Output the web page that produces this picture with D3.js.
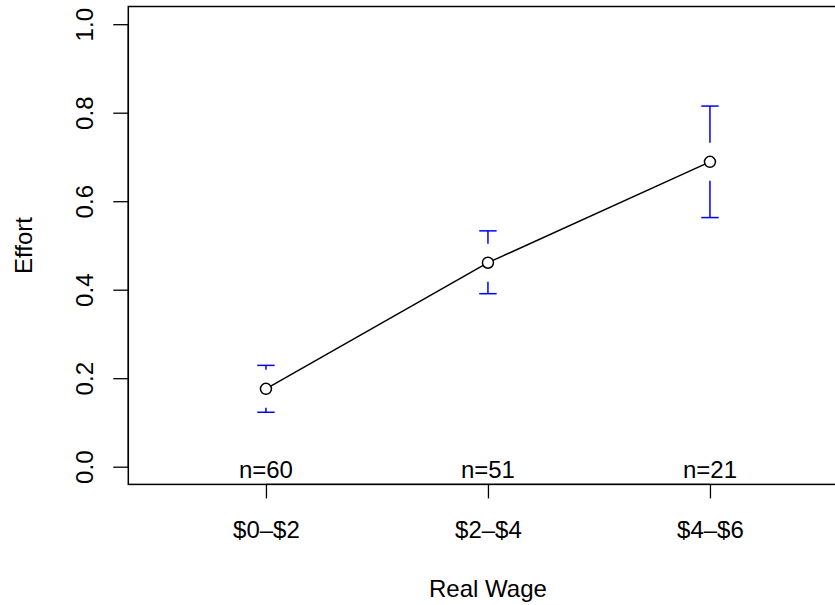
<!DOCTYPE html>
<html>
<head>
<meta charset="utf-8">
<script src="https://cdn.jsdelivr.net/npm/d3@7"></script>
<style>
  html, body { margin: 0; padding: 0; background: #fff; }
  svg text { font-family: "Liberation Sans", Arial, Helvetica, sans-serif; }
</style>
</head>
<body>
<svg id="chart" width="835" height="605"></svg>
<script>
// Wage bins, mean effort with interval bounds, and group sizes
const categories = ["$0\u2013$2", "$2\u2013$4", "$4\u2013$6"];
const effortMean = [0.176, 0.461, 0.689];
const effortUpper = [0.229, 0.533, 0.815];
const effortLower = [0.123, 0.391, 0.563];
const groupN = [60, 51, 21];
const yTicks = [0.0, 0.2, 0.4, 0.6, 0.8, 1.0];

const svg = d3.select("#chart");
const box = { left: 128.3, top: 6.5, bottom: 484.4, right: 847.6 };
const fontSize = 24;

const x = d3.scaleLinear().domain([0.38, 3.62]).range([box.left, box.right]);
const y = d3.scaleLinear().domain([-0.04, 1.04]).range([box.bottom, box.top]);

const idx = categories.map((_, i) => i + 1);

// Y axis
const yAxis = svg.append("g")
  .attr("transform", `translate(${box.left},0)`)
  .call(d3.axisLeft(y).tickValues(yTicks).tickFormat(d3.format(".1f")).tickSize(15).tickSizeOuter(0));
yAxis.select(".domain").attr("d", `M0,${y(0)}V${y(1)}`).attr("stroke", "#000").attr("stroke-width", 1.3);
yAxis.selectAll(".tick line").attr("stroke", "#000").attr("stroke-width", 1.3);
yAxis.selectAll(".tick text")
  .attr("x", null).attr("dy", null)
  .attr("transform", "translate(-35,0) rotate(-90)")
  .attr("text-anchor", "middle")
  .attr("fill", "#000")
  .style("font-size", fontSize + "px");

// X axis
const xAxis = svg.append("g")
  .attr("transform", `translate(0,${box.bottom})`)
  .call(d3.axisBottom(x).tickValues(idx).tickFormat(d => categories[d - 1]).tickSize(14).tickSizeOuter(0));
xAxis.select(".domain").attr("d", `M${x(1)},0H${x(3)}`).attr("stroke", "#000").attr("stroke-width", 1.3);
xAxis.selectAll(".tick line").attr("stroke", "#000").attr("stroke-width", 1.3);
xAxis.selectAll(".tick text")
  .attr("y", 54).attr("dy", null)
  .attr("fill", "#000")
  .style("font-size", fontSize + "px");

// Plot frame
svg.append("rect")
  .attr("x", box.left).attr("y", box.top)
  .attr("width", box.right - box.left).attr("height", box.bottom - box.top)
  .attr("fill", "none").attr("stroke", "#000").attr("stroke-width", 1.5);

// Axis titles
svg.append("text")
  .attr("x", (box.left + box.right) / 2).attr("y", 597)
  .attr("text-anchor", "middle").style("font-size", fontSize + "px")
  .text("Real Wage");
svg.append("text")
  .attr("transform", `translate(32,${(box.top + box.bottom) / 2}) rotate(-90)`)
  .attr("text-anchor", "middle").style("font-size", fontSize + "px")
  .text("Effort");

// Interval bars with a gap around each point
const gap = 19, capHalf = 8.7;
const bars = svg.append("g").attr("stroke", "#0000ff").attr("stroke-width", 1.5).attr("fill", "none");
idx.forEach((k, i) => {
  const cx = x(k), cy = y(effortMean[i]);
  const yu = y(effortUpper[i]), yl = y(effortLower[i]);
  if (yu < cy - gap) bars.append("line").attr("x1", cx).attr("x2", cx).attr("y1", yu).attr("y2", cy - gap);
  if (yl > cy + gap) bars.append("line").attr("x1", cx).attr("x2", cx).attr("y1", yl).attr("y2", cy + gap);
  bars.append("line").attr("x1", cx - capHalf).attr("x2", cx + capHalf).attr("y1", yu).attr("y2", yu);
  bars.append("line").attr("x1", cx - capHalf).attr("x2", cx + capHalf).attr("y1", yl).attr("y2", yl);
});

// Connecting line segments, trimmed at the point markers
const r = 5.5;
const pts = idx.map((k, i) => [x(k), y(effortMean[i])]);
const seg = svg.append("g").attr("stroke", "#000").attr("stroke-width", 1.5);
for (let i = 0; i < pts.length - 1; i++) {
  const [x1, y1] = pts[i], [x2, y2] = pts[i + 1];
  const len = Math.hypot(x2 - x1, y2 - y1);
  const ux = (x2 - x1) / len, uy = (y2 - y1) / len;
  seg.append("line")
    .attr("x1", x1 + ux * r).attr("y1", y1 + uy * r)
    .attr("x2", x2 - ux * r).attr("y2", y2 - uy * r);
}

// Point markers
svg.append("g").selectAll("circle").data(pts).join("circle")
  .attr("cx", d => d[0]).attr("cy", d => d[1]).attr("r", r)
  .attr("fill", "none").attr("stroke", "#000").attr("stroke-width", 1.5);

// Group size labels
svg.append("g").selectAll("text").data(groupN).join("text")
  .attr("x", (d, i) => x(idx[i])).attr("y", 478)
  .attr("text-anchor", "middle").style("font-size", fontSize + "px")
  .text(d => "n=" + d);
</script>
</body>
</html>
